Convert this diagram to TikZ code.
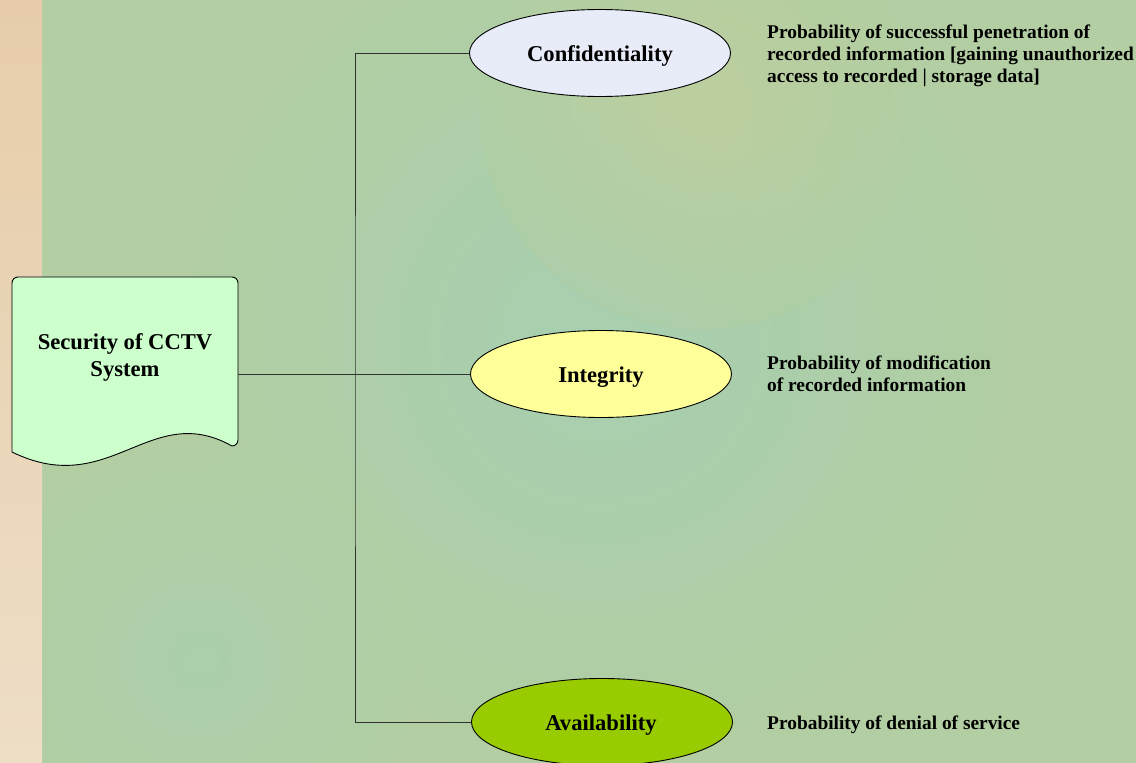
\documentclass[tikz,border=0pt]{standalone}
\usepackage{fontspec}
\setmainfont{Liberation Serif}
\usetikzlibrary{shapes.geometric}

\definecolor{bggreen}{RGB}{178,206,162}
\definecolor{bgblue}{RGB}{158,208,190}
\definecolor{bgwarm}{RGB}{208,206,150}
\definecolor{stripA}{RGB}{230,204,170}
\definecolor{stripB}{RGB}{238,222,198}
\definecolor{docfill}{RGB}{204,255,204}
\definecolor{conffill}{RGB}{232,236,248}
\definecolor{intfill}{RGB}{255,255,153}
\definecolor{availfill}{RGB}{153,204,0}
\definecolor{wire}{RGB}{50,50,50}

\tikzset{
  oval/.style={ellipse, draw=black, line width=0.9pt, minimum width=261pt,
    minimum height=87pt, inner sep=0pt,
    font=\fontsize{22.6}{27}\selectfont\bfseries},
  note/.style={anchor=west, align=left, inner sep=0pt,
    font=\fontsize{19.4}{22}\selectfont\bfseries},
  wireline/.style={draw=wire, line width=1pt},
  docshape/.style={draw=black, line width=0.9pt, fill=docfill},
}

\begin{document}
\begin{tikzpicture}[x=1pt,y=-1pt]
  % backdrop
  \useasboundingbox (0,0) rectangle (1136,763);
  \fill[bggreen] (0,0) rectangle (1136,763);
  \begin{scope}
    \clip (42,0) rectangle (1136,763);
    \shade[inner color=bgblue, outer color=bggreen, opacity=0.55] (600,340) circle (420pt);
    \shade[inner color=bgwarm, outer color=bggreen, opacity=0.45] (700,110) circle (220pt);
    \shade[inner color=bgblue, outer color=bggreen, opacity=0.35] (200,660) circle (220pt);
  \end{scope}
  \shade[top color=stripA, bottom color=stripB] (0,0) rectangle (42,763);

  % document-shaped root box
  \path[docshape] (12,452) -- (12,283) arc[start angle=180, end angle=90, radius=6pt]
    -- (232,277) arc[start angle=90, end angle=0, radius=6pt]
    -- (238,440) arc[start angle=0, end angle=-90, radius=6pt]
    .. controls (150,400) and (110,500) .. (12,452) -- cycle;
  \node[align=center, font=\fontsize{22.6}{27}\selectfont\bfseries] (root) at (125,357)
    {Security of CCTV\\System};
  \coordinate (rootout) at (238,374);
  \coordinate (bus) at (355,374);

  % three properties
  \node[oval, fill=conffill] (conf) at (600,53) {};
  \node[oval, fill=intfill] (integ) at (601,374) {};
  \node[oval, fill=availfill] (avail) at (602,722) {};
  \node[font=\fontsize{22.6}{27}\selectfont\bfseries] (conflabel) at (600,56) {Confidentiality};
  \node[font=\fontsize{22.6}{27}\selectfont\bfseries] (integlabel) at (601,377) {Integrity};
  \node[font=\fontsize{22.6}{27}\selectfont\bfseries] (availlabel) at (601,725) {Availability};

  % connectors
  \draw[wireline] (rootout) -- (integ.west);
  \draw[wireline] (conf.west) -| (bus) |- (avail.west);

  % descriptions
  \node[note] (confnote) at (767,56) {Probability of successful penetration of\\recorded information [gaining unauthorized\\access to recorded | storage data]};
  \node[note] (integnote) at (767,374) {Probability of modification\\of recorded information};
  \node[note] (availnote) at (767,725) {Probability of denial of service};
\end{tikzpicture}
\end{document}
